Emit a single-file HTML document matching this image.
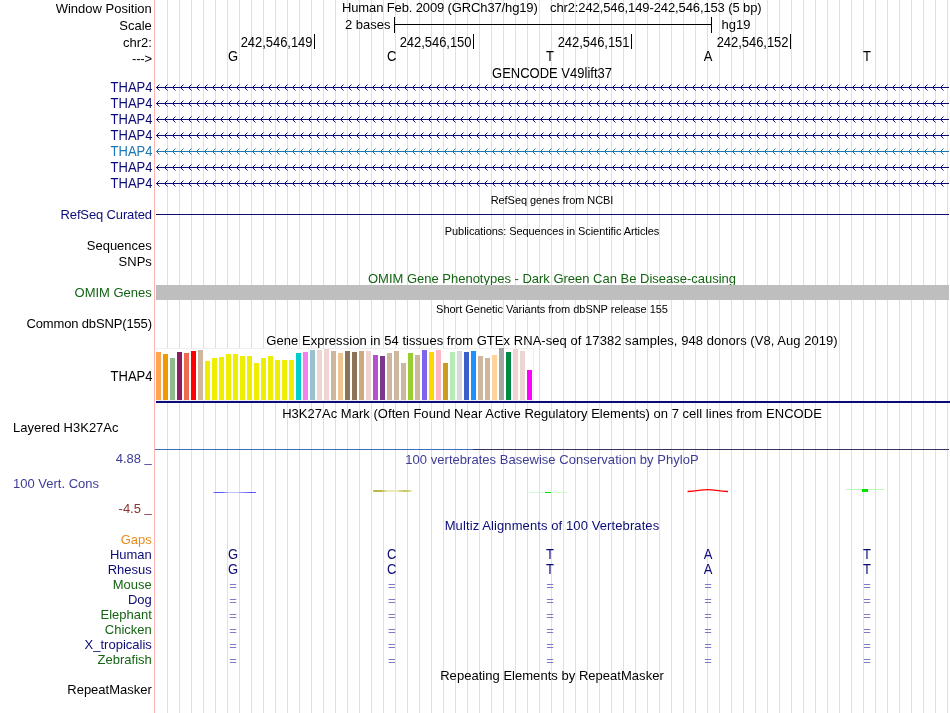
<!DOCTYPE html>
<html lang="en"><head><meta charset="utf-8"><title>UCSC Genome Browser hg19 chr2:242,546,149-242,546,153</title>
<style>
html,body{margin:0;padding:0;background:#fff;}
#b{position:relative;width:950px;height:713px;overflow:hidden;background:#fff;font-family:"Liberation Sans", sans-serif;font-size:13px;line-height:16px;color:#000;}
#b svg{position:absolute;left:0;top:0;}
.t{position:absolute;white-space:pre;height:16px;transform:scaleY(1.03);transform-origin:0 12px;}
.k{transform:scaleY(1.06);}
.r{right:798.2px;text-align:right;}
.c{left:154px;width:796px;text-align:center;}
.s{font-size:11px;transform:none;letter-spacing:-0.07px;}
.nv{color:#0c0c78;}
.gr{color:#146414;}
.u{position:relative;top:-1px;}
</style></head><body><div id="b">
<svg width="950" height="713" viewBox="0 0 950 713" shape-rendering="crispEdges">
<path d="M167.5 0V713M179.5 0V713M191.5 0V713M203.5 0V713M215.5 0V713M227.5 0V713M239.5 0V713M251.5 0V713M263.5 0V713M275.5 0V713M287.5 0V713M299.5 0V713M311.5 0V713M323.5 0V713M335.5 0V713M347.5 0V713M359.5 0V713M371.5 0V713M383.5 0V713M395.5 0V713M407.5 0V713M419.5 0V713M431.5 0V713M443.5 0V713M455.5 0V713M467.5 0V713M479.5 0V713M491.5 0V713M503.5 0V713M515.5 0V713M527.5 0V713M539.5 0V713M551.5 0V713M563.5 0V713M575.5 0V713M587.5 0V713M599.5 0V713M611.5 0V713M623.5 0V713M635.5 0V713M647.5 0V713M659.5 0V713M671.5 0V713M683.5 0V713M695.5 0V713M707.5 0V713M719.5 0V713M731.5 0V713M743.5 0V713M755.5 0V713M767.5 0V713M779.5 0V713M791.5 0V713M803.5 0V713M815.5 0V713M827.5 0V713M839.5 0V713M851.5 0V713M863.5 0V713M875.5 0V713M887.5 0V713M899.5 0V713M911.5 0V713M923.5 0V713M935.5 0V713M947.5 0V713" stroke="#dcdcff" stroke-width="1" fill="none"/>
<path d="M154.5 0V713" stroke="#ffb4b4" stroke-width="1" fill="none"/>
<path d="M394 24.5H712M394.5 17V33M711.5 17V33" stroke="#000" stroke-width="1" fill="none"/>
<path d="M314.5 34V49" stroke="#000" stroke-width="1" fill="none"/>
<path d="M473.5 34V49" stroke="#000" stroke-width="1" fill="none"/>
<path d="M631.5 34V49" stroke="#000" stroke-width="1" fill="none"/>
<path d="M790.5 34V49" stroke="#000" stroke-width="1" fill="none"/>
<path d="M156 87.5H949" stroke="#0c0c78" stroke-width="1" fill="none"/>
<path d="M156.5 87.5l3 -3m-3 3l3 3M164.5 87.5l3 -3m-3 3l3 3M172.5 87.5l3 -3m-3 3l3 3M180.5 87.5l3 -3m-3 3l3 3M188.5 87.5l3 -3m-3 3l3 3M196.5 87.5l3 -3m-3 3l3 3M204.5 87.5l3 -3m-3 3l3 3M212.5 87.5l3 -3m-3 3l3 3M220.5 87.5l3 -3m-3 3l3 3M228.5 87.5l3 -3m-3 3l3 3M236.5 87.5l3 -3m-3 3l3 3M244.5 87.5l3 -3m-3 3l3 3M252.5 87.5l3 -3m-3 3l3 3M260.5 87.5l3 -3m-3 3l3 3M268.5 87.5l3 -3m-3 3l3 3M276.5 87.5l3 -3m-3 3l3 3M284.5 87.5l3 -3m-3 3l3 3M292.5 87.5l3 -3m-3 3l3 3M300.5 87.5l3 -3m-3 3l3 3M308.5 87.5l3 -3m-3 3l3 3M316.5 87.5l3 -3m-3 3l3 3M324.5 87.5l3 -3m-3 3l3 3M332.5 87.5l3 -3m-3 3l3 3M340.5 87.5l3 -3m-3 3l3 3M348.5 87.5l3 -3m-3 3l3 3M356.5 87.5l3 -3m-3 3l3 3M364.5 87.5l3 -3m-3 3l3 3M372.5 87.5l3 -3m-3 3l3 3M380.5 87.5l3 -3m-3 3l3 3M388.5 87.5l3 -3m-3 3l3 3M396.5 87.5l3 -3m-3 3l3 3M404.5 87.5l3 -3m-3 3l3 3M412.5 87.5l3 -3m-3 3l3 3M420.5 87.5l3 -3m-3 3l3 3M428.5 87.5l3 -3m-3 3l3 3M436.5 87.5l3 -3m-3 3l3 3M444.5 87.5l3 -3m-3 3l3 3M452.5 87.5l3 -3m-3 3l3 3M460.5 87.5l3 -3m-3 3l3 3M468.5 87.5l3 -3m-3 3l3 3M476.5 87.5l3 -3m-3 3l3 3M484.5 87.5l3 -3m-3 3l3 3M492.5 87.5l3 -3m-3 3l3 3M500.5 87.5l3 -3m-3 3l3 3M508.5 87.5l3 -3m-3 3l3 3M516.5 87.5l3 -3m-3 3l3 3M524.5 87.5l3 -3m-3 3l3 3M532.5 87.5l3 -3m-3 3l3 3M540.5 87.5l3 -3m-3 3l3 3M548.5 87.5l3 -3m-3 3l3 3M556.5 87.5l3 -3m-3 3l3 3M564.5 87.5l3 -3m-3 3l3 3M572.5 87.5l3 -3m-3 3l3 3M580.5 87.5l3 -3m-3 3l3 3M588.5 87.5l3 -3m-3 3l3 3M596.5 87.5l3 -3m-3 3l3 3M604.5 87.5l3 -3m-3 3l3 3M612.5 87.5l3 -3m-3 3l3 3M620.5 87.5l3 -3m-3 3l3 3M628.5 87.5l3 -3m-3 3l3 3M636.5 87.5l3 -3m-3 3l3 3M644.5 87.5l3 -3m-3 3l3 3M652.5 87.5l3 -3m-3 3l3 3M660.5 87.5l3 -3m-3 3l3 3M668.5 87.5l3 -3m-3 3l3 3M676.5 87.5l3 -3m-3 3l3 3M684.5 87.5l3 -3m-3 3l3 3M692.5 87.5l3 -3m-3 3l3 3M700.5 87.5l3 -3m-3 3l3 3M708.5 87.5l3 -3m-3 3l3 3M716.5 87.5l3 -3m-3 3l3 3M724.5 87.5l3 -3m-3 3l3 3M732.5 87.5l3 -3m-3 3l3 3M740.5 87.5l3 -3m-3 3l3 3M748.5 87.5l3 -3m-3 3l3 3M756.5 87.5l3 -3m-3 3l3 3M764.5 87.5l3 -3m-3 3l3 3M772.5 87.5l3 -3m-3 3l3 3M780.5 87.5l3 -3m-3 3l3 3M788.5 87.5l3 -3m-3 3l3 3M796.5 87.5l3 -3m-3 3l3 3M804.5 87.5l3 -3m-3 3l3 3M812.5 87.5l3 -3m-3 3l3 3M820.5 87.5l3 -3m-3 3l3 3M828.5 87.5l3 -3m-3 3l3 3M836.5 87.5l3 -3m-3 3l3 3M844.5 87.5l3 -3m-3 3l3 3M852.5 87.5l3 -3m-3 3l3 3M860.5 87.5l3 -3m-3 3l3 3M868.5 87.5l3 -3m-3 3l3 3M876.5 87.5l3 -3m-3 3l3 3M884.5 87.5l3 -3m-3 3l3 3M892.5 87.5l3 -3m-3 3l3 3M900.5 87.5l3 -3m-3 3l3 3M908.5 87.5l3 -3m-3 3l3 3M916.5 87.5l3 -3m-3 3l3 3M924.5 87.5l3 -3m-3 3l3 3M932.5 87.5l3 -3m-3 3l3 3M940.5 87.5l3 -3m-3 3l3 3" stroke="#0c0c78" stroke-width="1" fill="none" shape-rendering="auto"/>
<path d="M156 103.5H949" stroke="#0c0c78" stroke-width="1" fill="none"/>
<path d="M156.5 103.5l3 -3m-3 3l3 3M164.5 103.5l3 -3m-3 3l3 3M172.5 103.5l3 -3m-3 3l3 3M180.5 103.5l3 -3m-3 3l3 3M188.5 103.5l3 -3m-3 3l3 3M196.5 103.5l3 -3m-3 3l3 3M204.5 103.5l3 -3m-3 3l3 3M212.5 103.5l3 -3m-3 3l3 3M220.5 103.5l3 -3m-3 3l3 3M228.5 103.5l3 -3m-3 3l3 3M236.5 103.5l3 -3m-3 3l3 3M244.5 103.5l3 -3m-3 3l3 3M252.5 103.5l3 -3m-3 3l3 3M260.5 103.5l3 -3m-3 3l3 3M268.5 103.5l3 -3m-3 3l3 3M276.5 103.5l3 -3m-3 3l3 3M284.5 103.5l3 -3m-3 3l3 3M292.5 103.5l3 -3m-3 3l3 3M300.5 103.5l3 -3m-3 3l3 3M308.5 103.5l3 -3m-3 3l3 3M316.5 103.5l3 -3m-3 3l3 3M324.5 103.5l3 -3m-3 3l3 3M332.5 103.5l3 -3m-3 3l3 3M340.5 103.5l3 -3m-3 3l3 3M348.5 103.5l3 -3m-3 3l3 3M356.5 103.5l3 -3m-3 3l3 3M364.5 103.5l3 -3m-3 3l3 3M372.5 103.5l3 -3m-3 3l3 3M380.5 103.5l3 -3m-3 3l3 3M388.5 103.5l3 -3m-3 3l3 3M396.5 103.5l3 -3m-3 3l3 3M404.5 103.5l3 -3m-3 3l3 3M412.5 103.5l3 -3m-3 3l3 3M420.5 103.5l3 -3m-3 3l3 3M428.5 103.5l3 -3m-3 3l3 3M436.5 103.5l3 -3m-3 3l3 3M444.5 103.5l3 -3m-3 3l3 3M452.5 103.5l3 -3m-3 3l3 3M460.5 103.5l3 -3m-3 3l3 3M468.5 103.5l3 -3m-3 3l3 3M476.5 103.5l3 -3m-3 3l3 3M484.5 103.5l3 -3m-3 3l3 3M492.5 103.5l3 -3m-3 3l3 3M500.5 103.5l3 -3m-3 3l3 3M508.5 103.5l3 -3m-3 3l3 3M516.5 103.5l3 -3m-3 3l3 3M524.5 103.5l3 -3m-3 3l3 3M532.5 103.5l3 -3m-3 3l3 3M540.5 103.5l3 -3m-3 3l3 3M548.5 103.5l3 -3m-3 3l3 3M556.5 103.5l3 -3m-3 3l3 3M564.5 103.5l3 -3m-3 3l3 3M572.5 103.5l3 -3m-3 3l3 3M580.5 103.5l3 -3m-3 3l3 3M588.5 103.5l3 -3m-3 3l3 3M596.5 103.5l3 -3m-3 3l3 3M604.5 103.5l3 -3m-3 3l3 3M612.5 103.5l3 -3m-3 3l3 3M620.5 103.5l3 -3m-3 3l3 3M628.5 103.5l3 -3m-3 3l3 3M636.5 103.5l3 -3m-3 3l3 3M644.5 103.5l3 -3m-3 3l3 3M652.5 103.5l3 -3m-3 3l3 3M660.5 103.5l3 -3m-3 3l3 3M668.5 103.5l3 -3m-3 3l3 3M676.5 103.5l3 -3m-3 3l3 3M684.5 103.5l3 -3m-3 3l3 3M692.5 103.5l3 -3m-3 3l3 3M700.5 103.5l3 -3m-3 3l3 3M708.5 103.5l3 -3m-3 3l3 3M716.5 103.5l3 -3m-3 3l3 3M724.5 103.5l3 -3m-3 3l3 3M732.5 103.5l3 -3m-3 3l3 3M740.5 103.5l3 -3m-3 3l3 3M748.5 103.5l3 -3m-3 3l3 3M756.5 103.5l3 -3m-3 3l3 3M764.5 103.5l3 -3m-3 3l3 3M772.5 103.5l3 -3m-3 3l3 3M780.5 103.5l3 -3m-3 3l3 3M788.5 103.5l3 -3m-3 3l3 3M796.5 103.5l3 -3m-3 3l3 3M804.5 103.5l3 -3m-3 3l3 3M812.5 103.5l3 -3m-3 3l3 3M820.5 103.5l3 -3m-3 3l3 3M828.5 103.5l3 -3m-3 3l3 3M836.5 103.5l3 -3m-3 3l3 3M844.5 103.5l3 -3m-3 3l3 3M852.5 103.5l3 -3m-3 3l3 3M860.5 103.5l3 -3m-3 3l3 3M868.5 103.5l3 -3m-3 3l3 3M876.5 103.5l3 -3m-3 3l3 3M884.5 103.5l3 -3m-3 3l3 3M892.5 103.5l3 -3m-3 3l3 3M900.5 103.5l3 -3m-3 3l3 3M908.5 103.5l3 -3m-3 3l3 3M916.5 103.5l3 -3m-3 3l3 3M924.5 103.5l3 -3m-3 3l3 3M932.5 103.5l3 -3m-3 3l3 3M940.5 103.5l3 -3m-3 3l3 3" stroke="#0c0c78" stroke-width="1" fill="none" shape-rendering="auto"/>
<path d="M156 119.5H949" stroke="#0c0c78" stroke-width="1" fill="none"/>
<path d="M156.5 119.5l3 -3m-3 3l3 3M164.5 119.5l3 -3m-3 3l3 3M172.5 119.5l3 -3m-3 3l3 3M180.5 119.5l3 -3m-3 3l3 3M188.5 119.5l3 -3m-3 3l3 3M196.5 119.5l3 -3m-3 3l3 3M204.5 119.5l3 -3m-3 3l3 3M212.5 119.5l3 -3m-3 3l3 3M220.5 119.5l3 -3m-3 3l3 3M228.5 119.5l3 -3m-3 3l3 3M236.5 119.5l3 -3m-3 3l3 3M244.5 119.5l3 -3m-3 3l3 3M252.5 119.5l3 -3m-3 3l3 3M260.5 119.5l3 -3m-3 3l3 3M268.5 119.5l3 -3m-3 3l3 3M276.5 119.5l3 -3m-3 3l3 3M284.5 119.5l3 -3m-3 3l3 3M292.5 119.5l3 -3m-3 3l3 3M300.5 119.5l3 -3m-3 3l3 3M308.5 119.5l3 -3m-3 3l3 3M316.5 119.5l3 -3m-3 3l3 3M324.5 119.5l3 -3m-3 3l3 3M332.5 119.5l3 -3m-3 3l3 3M340.5 119.5l3 -3m-3 3l3 3M348.5 119.5l3 -3m-3 3l3 3M356.5 119.5l3 -3m-3 3l3 3M364.5 119.5l3 -3m-3 3l3 3M372.5 119.5l3 -3m-3 3l3 3M380.5 119.5l3 -3m-3 3l3 3M388.5 119.5l3 -3m-3 3l3 3M396.5 119.5l3 -3m-3 3l3 3M404.5 119.5l3 -3m-3 3l3 3M412.5 119.5l3 -3m-3 3l3 3M420.5 119.5l3 -3m-3 3l3 3M428.5 119.5l3 -3m-3 3l3 3M436.5 119.5l3 -3m-3 3l3 3M444.5 119.5l3 -3m-3 3l3 3M452.5 119.5l3 -3m-3 3l3 3M460.5 119.5l3 -3m-3 3l3 3M468.5 119.5l3 -3m-3 3l3 3M476.5 119.5l3 -3m-3 3l3 3M484.5 119.5l3 -3m-3 3l3 3M492.5 119.5l3 -3m-3 3l3 3M500.5 119.5l3 -3m-3 3l3 3M508.5 119.5l3 -3m-3 3l3 3M516.5 119.5l3 -3m-3 3l3 3M524.5 119.5l3 -3m-3 3l3 3M532.5 119.5l3 -3m-3 3l3 3M540.5 119.5l3 -3m-3 3l3 3M548.5 119.5l3 -3m-3 3l3 3M556.5 119.5l3 -3m-3 3l3 3M564.5 119.5l3 -3m-3 3l3 3M572.5 119.5l3 -3m-3 3l3 3M580.5 119.5l3 -3m-3 3l3 3M588.5 119.5l3 -3m-3 3l3 3M596.5 119.5l3 -3m-3 3l3 3M604.5 119.5l3 -3m-3 3l3 3M612.5 119.5l3 -3m-3 3l3 3M620.5 119.5l3 -3m-3 3l3 3M628.5 119.5l3 -3m-3 3l3 3M636.5 119.5l3 -3m-3 3l3 3M644.5 119.5l3 -3m-3 3l3 3M652.5 119.5l3 -3m-3 3l3 3M660.5 119.5l3 -3m-3 3l3 3M668.5 119.5l3 -3m-3 3l3 3M676.5 119.5l3 -3m-3 3l3 3M684.5 119.5l3 -3m-3 3l3 3M692.5 119.5l3 -3m-3 3l3 3M700.5 119.5l3 -3m-3 3l3 3M708.5 119.5l3 -3m-3 3l3 3M716.5 119.5l3 -3m-3 3l3 3M724.5 119.5l3 -3m-3 3l3 3M732.5 119.5l3 -3m-3 3l3 3M740.5 119.5l3 -3m-3 3l3 3M748.5 119.5l3 -3m-3 3l3 3M756.5 119.5l3 -3m-3 3l3 3M764.5 119.5l3 -3m-3 3l3 3M772.5 119.5l3 -3m-3 3l3 3M780.5 119.5l3 -3m-3 3l3 3M788.5 119.5l3 -3m-3 3l3 3M796.5 119.5l3 -3m-3 3l3 3M804.5 119.5l3 -3m-3 3l3 3M812.5 119.5l3 -3m-3 3l3 3M820.5 119.5l3 -3m-3 3l3 3M828.5 119.5l3 -3m-3 3l3 3M836.5 119.5l3 -3m-3 3l3 3M844.5 119.5l3 -3m-3 3l3 3M852.5 119.5l3 -3m-3 3l3 3M860.5 119.5l3 -3m-3 3l3 3M868.5 119.5l3 -3m-3 3l3 3M876.5 119.5l3 -3m-3 3l3 3M884.5 119.5l3 -3m-3 3l3 3M892.5 119.5l3 -3m-3 3l3 3M900.5 119.5l3 -3m-3 3l3 3M908.5 119.5l3 -3m-3 3l3 3M916.5 119.5l3 -3m-3 3l3 3M924.5 119.5l3 -3m-3 3l3 3M932.5 119.5l3 -3m-3 3l3 3M940.5 119.5l3 -3m-3 3l3 3" stroke="#0c0c78" stroke-width="1" fill="none" shape-rendering="auto"/>
<path d="M156 135.5H949" stroke="#0c0c78" stroke-width="1" fill="none"/>
<path d="M156.5 135.5l3 -3m-3 3l3 3M164.5 135.5l3 -3m-3 3l3 3M172.5 135.5l3 -3m-3 3l3 3M180.5 135.5l3 -3m-3 3l3 3M188.5 135.5l3 -3m-3 3l3 3M196.5 135.5l3 -3m-3 3l3 3M204.5 135.5l3 -3m-3 3l3 3M212.5 135.5l3 -3m-3 3l3 3M220.5 135.5l3 -3m-3 3l3 3M228.5 135.5l3 -3m-3 3l3 3M236.5 135.5l3 -3m-3 3l3 3M244.5 135.5l3 -3m-3 3l3 3M252.5 135.5l3 -3m-3 3l3 3M260.5 135.5l3 -3m-3 3l3 3M268.5 135.5l3 -3m-3 3l3 3M276.5 135.5l3 -3m-3 3l3 3M284.5 135.5l3 -3m-3 3l3 3M292.5 135.5l3 -3m-3 3l3 3M300.5 135.5l3 -3m-3 3l3 3M308.5 135.5l3 -3m-3 3l3 3M316.5 135.5l3 -3m-3 3l3 3M324.5 135.5l3 -3m-3 3l3 3M332.5 135.5l3 -3m-3 3l3 3M340.5 135.5l3 -3m-3 3l3 3M348.5 135.5l3 -3m-3 3l3 3M356.5 135.5l3 -3m-3 3l3 3M364.5 135.5l3 -3m-3 3l3 3M372.5 135.5l3 -3m-3 3l3 3M380.5 135.5l3 -3m-3 3l3 3M388.5 135.5l3 -3m-3 3l3 3M396.5 135.5l3 -3m-3 3l3 3M404.5 135.5l3 -3m-3 3l3 3M412.5 135.5l3 -3m-3 3l3 3M420.5 135.5l3 -3m-3 3l3 3M428.5 135.5l3 -3m-3 3l3 3M436.5 135.5l3 -3m-3 3l3 3M444.5 135.5l3 -3m-3 3l3 3M452.5 135.5l3 -3m-3 3l3 3M460.5 135.5l3 -3m-3 3l3 3M468.5 135.5l3 -3m-3 3l3 3M476.5 135.5l3 -3m-3 3l3 3M484.5 135.5l3 -3m-3 3l3 3M492.5 135.5l3 -3m-3 3l3 3M500.5 135.5l3 -3m-3 3l3 3M508.5 135.5l3 -3m-3 3l3 3M516.5 135.5l3 -3m-3 3l3 3M524.5 135.5l3 -3m-3 3l3 3M532.5 135.5l3 -3m-3 3l3 3M540.5 135.5l3 -3m-3 3l3 3M548.5 135.5l3 -3m-3 3l3 3M556.5 135.5l3 -3m-3 3l3 3M564.5 135.5l3 -3m-3 3l3 3M572.5 135.5l3 -3m-3 3l3 3M580.5 135.5l3 -3m-3 3l3 3M588.5 135.5l3 -3m-3 3l3 3M596.5 135.5l3 -3m-3 3l3 3M604.5 135.5l3 -3m-3 3l3 3M612.5 135.5l3 -3m-3 3l3 3M620.5 135.5l3 -3m-3 3l3 3M628.5 135.5l3 -3m-3 3l3 3M636.5 135.5l3 -3m-3 3l3 3M644.5 135.5l3 -3m-3 3l3 3M652.5 135.5l3 -3m-3 3l3 3M660.5 135.5l3 -3m-3 3l3 3M668.5 135.5l3 -3m-3 3l3 3M676.5 135.5l3 -3m-3 3l3 3M684.5 135.5l3 -3m-3 3l3 3M692.5 135.5l3 -3m-3 3l3 3M700.5 135.5l3 -3m-3 3l3 3M708.5 135.5l3 -3m-3 3l3 3M716.5 135.5l3 -3m-3 3l3 3M724.5 135.5l3 -3m-3 3l3 3M732.5 135.5l3 -3m-3 3l3 3M740.5 135.5l3 -3m-3 3l3 3M748.5 135.5l3 -3m-3 3l3 3M756.5 135.5l3 -3m-3 3l3 3M764.5 135.5l3 -3m-3 3l3 3M772.5 135.5l3 -3m-3 3l3 3M780.5 135.5l3 -3m-3 3l3 3M788.5 135.5l3 -3m-3 3l3 3M796.5 135.5l3 -3m-3 3l3 3M804.5 135.5l3 -3m-3 3l3 3M812.5 135.5l3 -3m-3 3l3 3M820.5 135.5l3 -3m-3 3l3 3M828.5 135.5l3 -3m-3 3l3 3M836.5 135.5l3 -3m-3 3l3 3M844.5 135.5l3 -3m-3 3l3 3M852.5 135.5l3 -3m-3 3l3 3M860.5 135.5l3 -3m-3 3l3 3M868.5 135.5l3 -3m-3 3l3 3M876.5 135.5l3 -3m-3 3l3 3M884.5 135.5l3 -3m-3 3l3 3M892.5 135.5l3 -3m-3 3l3 3M900.5 135.5l3 -3m-3 3l3 3M908.5 135.5l3 -3m-3 3l3 3M916.5 135.5l3 -3m-3 3l3 3M924.5 135.5l3 -3m-3 3l3 3M932.5 135.5l3 -3m-3 3l3 3M940.5 135.5l3 -3m-3 3l3 3" stroke="#0c0c78" stroke-width="1" fill="none" shape-rendering="auto"/>
<path d="M156 151.5H949" stroke="#1c76b4" stroke-width="1" fill="none"/>
<path d="M156.5 151.5l3 -3m-3 3l3 3M164.5 151.5l3 -3m-3 3l3 3M172.5 151.5l3 -3m-3 3l3 3M180.5 151.5l3 -3m-3 3l3 3M188.5 151.5l3 -3m-3 3l3 3M196.5 151.5l3 -3m-3 3l3 3M204.5 151.5l3 -3m-3 3l3 3M212.5 151.5l3 -3m-3 3l3 3M220.5 151.5l3 -3m-3 3l3 3M228.5 151.5l3 -3m-3 3l3 3M236.5 151.5l3 -3m-3 3l3 3M244.5 151.5l3 -3m-3 3l3 3M252.5 151.5l3 -3m-3 3l3 3M260.5 151.5l3 -3m-3 3l3 3M268.5 151.5l3 -3m-3 3l3 3M276.5 151.5l3 -3m-3 3l3 3M284.5 151.5l3 -3m-3 3l3 3M292.5 151.5l3 -3m-3 3l3 3M300.5 151.5l3 -3m-3 3l3 3M308.5 151.5l3 -3m-3 3l3 3M316.5 151.5l3 -3m-3 3l3 3M324.5 151.5l3 -3m-3 3l3 3M332.5 151.5l3 -3m-3 3l3 3M340.5 151.5l3 -3m-3 3l3 3M348.5 151.5l3 -3m-3 3l3 3M356.5 151.5l3 -3m-3 3l3 3M364.5 151.5l3 -3m-3 3l3 3M372.5 151.5l3 -3m-3 3l3 3M380.5 151.5l3 -3m-3 3l3 3M388.5 151.5l3 -3m-3 3l3 3M396.5 151.5l3 -3m-3 3l3 3M404.5 151.5l3 -3m-3 3l3 3M412.5 151.5l3 -3m-3 3l3 3M420.5 151.5l3 -3m-3 3l3 3M428.5 151.5l3 -3m-3 3l3 3M436.5 151.5l3 -3m-3 3l3 3M444.5 151.5l3 -3m-3 3l3 3M452.5 151.5l3 -3m-3 3l3 3M460.5 151.5l3 -3m-3 3l3 3M468.5 151.5l3 -3m-3 3l3 3M476.5 151.5l3 -3m-3 3l3 3M484.5 151.5l3 -3m-3 3l3 3M492.5 151.5l3 -3m-3 3l3 3M500.5 151.5l3 -3m-3 3l3 3M508.5 151.5l3 -3m-3 3l3 3M516.5 151.5l3 -3m-3 3l3 3M524.5 151.5l3 -3m-3 3l3 3M532.5 151.5l3 -3m-3 3l3 3M540.5 151.5l3 -3m-3 3l3 3M548.5 151.5l3 -3m-3 3l3 3M556.5 151.5l3 -3m-3 3l3 3M564.5 151.5l3 -3m-3 3l3 3M572.5 151.5l3 -3m-3 3l3 3M580.5 151.5l3 -3m-3 3l3 3M588.5 151.5l3 -3m-3 3l3 3M596.5 151.5l3 -3m-3 3l3 3M604.5 151.5l3 -3m-3 3l3 3M612.5 151.5l3 -3m-3 3l3 3M620.5 151.5l3 -3m-3 3l3 3M628.5 151.5l3 -3m-3 3l3 3M636.5 151.5l3 -3m-3 3l3 3M644.5 151.5l3 -3m-3 3l3 3M652.5 151.5l3 -3m-3 3l3 3M660.5 151.5l3 -3m-3 3l3 3M668.5 151.5l3 -3m-3 3l3 3M676.5 151.5l3 -3m-3 3l3 3M684.5 151.5l3 -3m-3 3l3 3M692.5 151.5l3 -3m-3 3l3 3M700.5 151.5l3 -3m-3 3l3 3M708.5 151.5l3 -3m-3 3l3 3M716.5 151.5l3 -3m-3 3l3 3M724.5 151.5l3 -3m-3 3l3 3M732.5 151.5l3 -3m-3 3l3 3M740.5 151.5l3 -3m-3 3l3 3M748.5 151.5l3 -3m-3 3l3 3M756.5 151.5l3 -3m-3 3l3 3M764.5 151.5l3 -3m-3 3l3 3M772.5 151.5l3 -3m-3 3l3 3M780.5 151.5l3 -3m-3 3l3 3M788.5 151.5l3 -3m-3 3l3 3M796.5 151.5l3 -3m-3 3l3 3M804.5 151.5l3 -3m-3 3l3 3M812.5 151.5l3 -3m-3 3l3 3M820.5 151.5l3 -3m-3 3l3 3M828.5 151.5l3 -3m-3 3l3 3M836.5 151.5l3 -3m-3 3l3 3M844.5 151.5l3 -3m-3 3l3 3M852.5 151.5l3 -3m-3 3l3 3M860.5 151.5l3 -3m-3 3l3 3M868.5 151.5l3 -3m-3 3l3 3M876.5 151.5l3 -3m-3 3l3 3M884.5 151.5l3 -3m-3 3l3 3M892.5 151.5l3 -3m-3 3l3 3M900.5 151.5l3 -3m-3 3l3 3M908.5 151.5l3 -3m-3 3l3 3M916.5 151.5l3 -3m-3 3l3 3M924.5 151.5l3 -3m-3 3l3 3M932.5 151.5l3 -3m-3 3l3 3M940.5 151.5l3 -3m-3 3l3 3" stroke="#1c76b4" stroke-width="1" fill="none" shape-rendering="auto"/>
<path d="M156 167.5H949" stroke="#0c0c78" stroke-width="1" fill="none"/>
<path d="M156.5 167.5l3 -3m-3 3l3 3M164.5 167.5l3 -3m-3 3l3 3M172.5 167.5l3 -3m-3 3l3 3M180.5 167.5l3 -3m-3 3l3 3M188.5 167.5l3 -3m-3 3l3 3M196.5 167.5l3 -3m-3 3l3 3M204.5 167.5l3 -3m-3 3l3 3M212.5 167.5l3 -3m-3 3l3 3M220.5 167.5l3 -3m-3 3l3 3M228.5 167.5l3 -3m-3 3l3 3M236.5 167.5l3 -3m-3 3l3 3M244.5 167.5l3 -3m-3 3l3 3M252.5 167.5l3 -3m-3 3l3 3M260.5 167.5l3 -3m-3 3l3 3M268.5 167.5l3 -3m-3 3l3 3M276.5 167.5l3 -3m-3 3l3 3M284.5 167.5l3 -3m-3 3l3 3M292.5 167.5l3 -3m-3 3l3 3M300.5 167.5l3 -3m-3 3l3 3M308.5 167.5l3 -3m-3 3l3 3M316.5 167.5l3 -3m-3 3l3 3M324.5 167.5l3 -3m-3 3l3 3M332.5 167.5l3 -3m-3 3l3 3M340.5 167.5l3 -3m-3 3l3 3M348.5 167.5l3 -3m-3 3l3 3M356.5 167.5l3 -3m-3 3l3 3M364.5 167.5l3 -3m-3 3l3 3M372.5 167.5l3 -3m-3 3l3 3M380.5 167.5l3 -3m-3 3l3 3M388.5 167.5l3 -3m-3 3l3 3M396.5 167.5l3 -3m-3 3l3 3M404.5 167.5l3 -3m-3 3l3 3M412.5 167.5l3 -3m-3 3l3 3M420.5 167.5l3 -3m-3 3l3 3M428.5 167.5l3 -3m-3 3l3 3M436.5 167.5l3 -3m-3 3l3 3M444.5 167.5l3 -3m-3 3l3 3M452.5 167.5l3 -3m-3 3l3 3M460.5 167.5l3 -3m-3 3l3 3M468.5 167.5l3 -3m-3 3l3 3M476.5 167.5l3 -3m-3 3l3 3M484.5 167.5l3 -3m-3 3l3 3M492.5 167.5l3 -3m-3 3l3 3M500.5 167.5l3 -3m-3 3l3 3M508.5 167.5l3 -3m-3 3l3 3M516.5 167.5l3 -3m-3 3l3 3M524.5 167.5l3 -3m-3 3l3 3M532.5 167.5l3 -3m-3 3l3 3M540.5 167.5l3 -3m-3 3l3 3M548.5 167.5l3 -3m-3 3l3 3M556.5 167.5l3 -3m-3 3l3 3M564.5 167.5l3 -3m-3 3l3 3M572.5 167.5l3 -3m-3 3l3 3M580.5 167.5l3 -3m-3 3l3 3M588.5 167.5l3 -3m-3 3l3 3M596.5 167.5l3 -3m-3 3l3 3M604.5 167.5l3 -3m-3 3l3 3M612.5 167.5l3 -3m-3 3l3 3M620.5 167.5l3 -3m-3 3l3 3M628.5 167.5l3 -3m-3 3l3 3M636.5 167.5l3 -3m-3 3l3 3M644.5 167.5l3 -3m-3 3l3 3M652.5 167.5l3 -3m-3 3l3 3M660.5 167.5l3 -3m-3 3l3 3M668.5 167.5l3 -3m-3 3l3 3M676.5 167.5l3 -3m-3 3l3 3M684.5 167.5l3 -3m-3 3l3 3M692.5 167.5l3 -3m-3 3l3 3M700.5 167.5l3 -3m-3 3l3 3M708.5 167.5l3 -3m-3 3l3 3M716.5 167.5l3 -3m-3 3l3 3M724.5 167.5l3 -3m-3 3l3 3M732.5 167.5l3 -3m-3 3l3 3M740.5 167.5l3 -3m-3 3l3 3M748.5 167.5l3 -3m-3 3l3 3M756.5 167.5l3 -3m-3 3l3 3M764.5 167.5l3 -3m-3 3l3 3M772.5 167.5l3 -3m-3 3l3 3M780.5 167.5l3 -3m-3 3l3 3M788.5 167.5l3 -3m-3 3l3 3M796.5 167.5l3 -3m-3 3l3 3M804.5 167.5l3 -3m-3 3l3 3M812.5 167.5l3 -3m-3 3l3 3M820.5 167.5l3 -3m-3 3l3 3M828.5 167.5l3 -3m-3 3l3 3M836.5 167.5l3 -3m-3 3l3 3M844.5 167.5l3 -3m-3 3l3 3M852.5 167.5l3 -3m-3 3l3 3M860.5 167.5l3 -3m-3 3l3 3M868.5 167.5l3 -3m-3 3l3 3M876.5 167.5l3 -3m-3 3l3 3M884.5 167.5l3 -3m-3 3l3 3M892.5 167.5l3 -3m-3 3l3 3M900.5 167.5l3 -3m-3 3l3 3M908.5 167.5l3 -3m-3 3l3 3M916.5 167.5l3 -3m-3 3l3 3M924.5 167.5l3 -3m-3 3l3 3M932.5 167.5l3 -3m-3 3l3 3M940.5 167.5l3 -3m-3 3l3 3" stroke="#0c0c78" stroke-width="1" fill="none" shape-rendering="auto"/>
<path d="M156 183.5H949" stroke="#0c0c78" stroke-width="1" fill="none"/>
<path d="M156.5 183.5l3 -3m-3 3l3 3M164.5 183.5l3 -3m-3 3l3 3M172.5 183.5l3 -3m-3 3l3 3M180.5 183.5l3 -3m-3 3l3 3M188.5 183.5l3 -3m-3 3l3 3M196.5 183.5l3 -3m-3 3l3 3M204.5 183.5l3 -3m-3 3l3 3M212.5 183.5l3 -3m-3 3l3 3M220.5 183.5l3 -3m-3 3l3 3M228.5 183.5l3 -3m-3 3l3 3M236.5 183.5l3 -3m-3 3l3 3M244.5 183.5l3 -3m-3 3l3 3M252.5 183.5l3 -3m-3 3l3 3M260.5 183.5l3 -3m-3 3l3 3M268.5 183.5l3 -3m-3 3l3 3M276.5 183.5l3 -3m-3 3l3 3M284.5 183.5l3 -3m-3 3l3 3M292.5 183.5l3 -3m-3 3l3 3M300.5 183.5l3 -3m-3 3l3 3M308.5 183.5l3 -3m-3 3l3 3M316.5 183.5l3 -3m-3 3l3 3M324.5 183.5l3 -3m-3 3l3 3M332.5 183.5l3 -3m-3 3l3 3M340.5 183.5l3 -3m-3 3l3 3M348.5 183.5l3 -3m-3 3l3 3M356.5 183.5l3 -3m-3 3l3 3M364.5 183.5l3 -3m-3 3l3 3M372.5 183.5l3 -3m-3 3l3 3M380.5 183.5l3 -3m-3 3l3 3M388.5 183.5l3 -3m-3 3l3 3M396.5 183.5l3 -3m-3 3l3 3M404.5 183.5l3 -3m-3 3l3 3M412.5 183.5l3 -3m-3 3l3 3M420.5 183.5l3 -3m-3 3l3 3M428.5 183.5l3 -3m-3 3l3 3M436.5 183.5l3 -3m-3 3l3 3M444.5 183.5l3 -3m-3 3l3 3M452.5 183.5l3 -3m-3 3l3 3M460.5 183.5l3 -3m-3 3l3 3M468.5 183.5l3 -3m-3 3l3 3M476.5 183.5l3 -3m-3 3l3 3M484.5 183.5l3 -3m-3 3l3 3M492.5 183.5l3 -3m-3 3l3 3M500.5 183.5l3 -3m-3 3l3 3M508.5 183.5l3 -3m-3 3l3 3M516.5 183.5l3 -3m-3 3l3 3M524.5 183.5l3 -3m-3 3l3 3M532.5 183.5l3 -3m-3 3l3 3M540.5 183.5l3 -3m-3 3l3 3M548.5 183.5l3 -3m-3 3l3 3M556.5 183.5l3 -3m-3 3l3 3M564.5 183.5l3 -3m-3 3l3 3M572.5 183.5l3 -3m-3 3l3 3M580.5 183.5l3 -3m-3 3l3 3M588.5 183.5l3 -3m-3 3l3 3M596.5 183.5l3 -3m-3 3l3 3M604.5 183.5l3 -3m-3 3l3 3M612.5 183.5l3 -3m-3 3l3 3M620.5 183.5l3 -3m-3 3l3 3M628.5 183.5l3 -3m-3 3l3 3M636.5 183.5l3 -3m-3 3l3 3M644.5 183.5l3 -3m-3 3l3 3M652.5 183.5l3 -3m-3 3l3 3M660.5 183.5l3 -3m-3 3l3 3M668.5 183.5l3 -3m-3 3l3 3M676.5 183.5l3 -3m-3 3l3 3M684.5 183.5l3 -3m-3 3l3 3M692.5 183.5l3 -3m-3 3l3 3M700.5 183.5l3 -3m-3 3l3 3M708.5 183.5l3 -3m-3 3l3 3M716.5 183.5l3 -3m-3 3l3 3M724.5 183.5l3 -3m-3 3l3 3M732.5 183.5l3 -3m-3 3l3 3M740.5 183.5l3 -3m-3 3l3 3M748.5 183.5l3 -3m-3 3l3 3M756.5 183.5l3 -3m-3 3l3 3M764.5 183.5l3 -3m-3 3l3 3M772.5 183.5l3 -3m-3 3l3 3M780.5 183.5l3 -3m-3 3l3 3M788.5 183.5l3 -3m-3 3l3 3M796.5 183.5l3 -3m-3 3l3 3M804.5 183.5l3 -3m-3 3l3 3M812.5 183.5l3 -3m-3 3l3 3M820.5 183.5l3 -3m-3 3l3 3M828.5 183.5l3 -3m-3 3l3 3M836.5 183.5l3 -3m-3 3l3 3M844.5 183.5l3 -3m-3 3l3 3M852.5 183.5l3 -3m-3 3l3 3M860.5 183.5l3 -3m-3 3l3 3M868.5 183.5l3 -3m-3 3l3 3M876.5 183.5l3 -3m-3 3l3 3M884.5 183.5l3 -3m-3 3l3 3M892.5 183.5l3 -3m-3 3l3 3M900.5 183.5l3 -3m-3 3l3 3M908.5 183.5l3 -3m-3 3l3 3M916.5 183.5l3 -3m-3 3l3 3M924.5 183.5l3 -3m-3 3l3 3M932.5 183.5l3 -3m-3 3l3 3M940.5 183.5l3 -3m-3 3l3 3" stroke="#0c0c78" stroke-width="1" fill="none" shape-rendering="auto"/>
<path d="M156 214.5H949" stroke="#0c0c78" stroke-width="1" fill="none"/>
<rect x="156" y="285" width="793" height="15" fill="#bebebe"/>
<rect x="156.5" y="348.5" width="377" height="52" fill="#fff" stroke="#f0f0f0" stroke-width="1"/>
<rect x="156" y="352" width="5" height="48" fill="#FFA54F"/>
<rect x="163" y="354" width="5" height="46" fill="#EE9A00"/>
<rect x="170" y="358" width="5" height="42" fill="#8FBC8F"/>
<rect x="177" y="352" width="5" height="48" fill="#8B1C62"/>
<rect x="184" y="353" width="5" height="47" fill="#EE6A50"/>
<rect x="191" y="351" width="5" height="49" fill="#FF0000"/>
<rect x="198" y="350" width="5" height="50" fill="#CDB79E"/>
<rect x="205" y="361" width="5" height="39" fill="#EEEE00"/>
<rect x="212" y="358" width="5" height="42" fill="#EEEE00"/>
<rect x="219" y="357" width="5" height="43" fill="#EEEE00"/>
<rect x="226" y="354" width="5" height="46" fill="#EEEE00"/>
<rect x="233" y="354" width="5" height="46" fill="#EEEE00"/>
<rect x="240" y="356" width="5" height="44" fill="#EEEE00"/>
<rect x="247" y="356" width="5" height="44" fill="#EEEE00"/>
<rect x="254" y="363" width="5" height="37" fill="#EEEE00"/>
<rect x="261" y="358" width="5" height="42" fill="#EEEE00"/>
<rect x="268" y="356" width="5" height="44" fill="#EEEE00"/>
<rect x="275" y="360" width="5" height="40" fill="#EEEE00"/>
<rect x="282" y="360" width="5" height="40" fill="#EEEE00"/>
<rect x="289" y="360" width="5" height="40" fill="#EEEE00"/>
<rect x="296" y="353" width="5" height="47" fill="#00CDCD"/>
<rect x="303" y="352" width="5" height="48" fill="#EE82EE"/>
<rect x="310" y="350" width="5" height="50" fill="#9AC0CD"/>
<rect x="317" y="350" width="5" height="50" fill="#EED5D2"/>
<rect x="324" y="349" width="5" height="51" fill="#EED5D2"/>
<rect x="331" y="351" width="5" height="49" fill="#CDB79E"/>
<rect x="338" y="353" width="5" height="47" fill="#EEC591"/>
<rect x="345" y="351" width="5" height="49" fill="#8B7355"/>
<rect x="352" y="352" width="5" height="48" fill="#8B7355"/>
<rect x="359" y="351" width="5" height="49" fill="#CDAA7D"/>
<rect x="366" y="351" width="5" height="49" fill="#EED5D2"/>
<rect x="373" y="355" width="5" height="45" fill="#B452CD"/>
<rect x="380" y="356" width="5" height="44" fill="#7A378B"/>
<rect x="387" y="353" width="5" height="47" fill="#CDB79E"/>
<rect x="394" y="351" width="5" height="49" fill="#CDB79E"/>
<rect x="401" y="363" width="5" height="37" fill="#CDB79E"/>
<rect x="408" y="353" width="5" height="47" fill="#9ACD32"/>
<rect x="415" y="355" width="5" height="45" fill="#CDB79E"/>
<rect x="422" y="350" width="5" height="50" fill="#7A67EE"/>
<rect x="429" y="352" width="5" height="48" fill="#FFD700"/>
<rect x="436" y="350" width="5" height="50" fill="#FFB6C1"/>
<rect x="443" y="363" width="5" height="37" fill="#CD9B1D"/>
<rect x="450" y="352" width="5" height="48" fill="#B4EEB4"/>
<rect x="457" y="351" width="5" height="49" fill="#D9D9D9"/>
<rect x="464" y="352" width="5" height="48" fill="#3A5FCD"/>
<rect x="471" y="351" width="5" height="49" fill="#1E90FF"/>
<rect x="478" y="356" width="5" height="44" fill="#CDB79E"/>
<rect x="485" y="358" width="5" height="42" fill="#CDB79E"/>
<rect x="492" y="355" width="5" height="45" fill="#FFD39B"/>
<rect x="499" y="348" width="5" height="52" fill="#A6A6A6"/>
<rect x="506" y="352" width="5" height="48" fill="#008B45"/>
<rect x="513" y="349" width="5" height="51" fill="#EED5D2"/>
<rect x="520" y="351" width="5" height="49" fill="#EED5D2"/>
<rect x="527" y="370" width="5" height="30" fill="#FF00FF"/>
<rect x="156" y="401" width="794" height="2" fill="#0a0a78"/>
<path d="M155 449.5H473" stroke="#3c6ebe" stroke-width="1" fill="none"/>
<path d="M473 449.5H949" stroke="#37305a" stroke-width="1" fill="none"/>
<defs><linearGradient id="gb" x1="0" x2="1" y1="0" y2="0"><stop offset="0" stop-color="#b4b4ff"/><stop offset="0.06" stop-color="#5050ff"/><stop offset="0.22" stop-color="#5c5cff"/><stop offset="0.38" stop-color="#c4c4ff"/><stop offset="0.55" stop-color="#c0c0ff"/><stop offset="0.72" stop-color="#8484ff"/><stop offset="0.9" stop-color="#4a4aff"/><stop offset="1" stop-color="#6464ff"/></linearGradient><linearGradient id="go" x1="0" x2="1" y1="0" y2="0"><stop offset="0" stop-color="#c8c860"/><stop offset="0.05" stop-color="#aaaa1e"/><stop offset="0.22" stop-color="#b0b028"/><stop offset="0.36" stop-color="#e6e6a8"/><stop offset="0.6" stop-color="#e8e8b4"/><stop offset="0.8" stop-color="#bcbc48"/><stop offset="0.9" stop-color="#c4c45c"/><stop offset="1" stop-color="#ececc0"/></linearGradient></defs>
<rect x="213" y="492" width="43" height="1" fill="url(#gb)"/>
<rect x="373" y="490" width="39" height="2" fill="url(#go)" opacity="0.85"/>
<path d="M529 492.5H567" stroke="#d4fcd4" stroke-width="1"/>
<path d="M545 492.5H551" stroke="#00e600" stroke-width="1"/>
<path d="M687.6 491.5C697 491.5 700 489.6 707.5 489.6C715 489.6 718 491.5 728 491.5" stroke="#ff0000" stroke-width="1.3" fill="none" shape-rendering="auto"/>
<path d="M846 489.5H884" stroke="#bcf8bc" stroke-width="1"/>
<rect x="862" y="489" width="6" height="3" fill="#00e400"/>
</svg>
<div class="t r" style="top:1px;">Window Position</div>
<div class="t r" style="top:18px;">Scale</div>
<div class="t r" style="top:35px;">chr2:</div>
<div class="t r" style="top:51px;letter-spacing:-0.2px">---&gt;</div>
<div class="t r k" style="top:80px;right:797.5px;color:#0c0c78">THAP4</div>
<div class="t r k" style="top:96px;right:797.5px;color:#0c0c78">THAP4</div>
<div class="t r k" style="top:112px;right:797.5px;color:#0c0c78">THAP4</div>
<div class="t r k" style="top:128px;right:797.5px;color:#0c0c78">THAP4</div>
<div class="t r k" style="top:144px;right:797.5px;color:#1c76b4">THAP4</div>
<div class="t r k" style="top:160px;right:797.5px;color:#0c0c78">THAP4</div>
<div class="t r k" style="top:176px;right:797.5px;color:#0c0c78">THAP4</div>
<div class="t r" style="top:207px;color:#0c0c78;letter-spacing:-0.14px">RefSeq Curated</div>
<div class="t r" style="top:238px;">Sequences</div>
<div class="t r" style="top:254px;">SNPs</div>
<div class="t r" style="top:285px;color:#146414">OMIM Genes</div>
<div class="t r" style="top:316px;letter-spacing:-0.15px">Common dbSNP(155)</div>
<div class="t r k" style="top:369px;right:797.5px">THAP4</div>
<div class="t " style="top:420px;left:13px">Layered H3K27Ac</div>
<div class="t r" style="top:451px;color:#3c3c96">4.88 <span class="u">_</span></div>
<div class="t " style="top:476px;left:13px;color:#3c3c96">100 Vert. Cons</div>
<div class="t r" style="top:501px;color:#8c3232">-4.5 <span class="u">_</span></div>
<div class="t r" style="top:532px;color:#e68c1e">Gaps</div>
<div class="t r" style="top:547px;color:#0c0c78">Human</div>
<div class="t r" style="top:562px;color:#0c0c78">Rhesus</div>
<div class="t r" style="top:577px;color:#146414">Mouse</div>
<div class="t r" style="top:592px;color:#0c0c78">Dog</div>
<div class="t r" style="top:607px;color:#146414">Elephant</div>
<div class="t r" style="top:622px;color:#146414">Chicken</div>
<div class="t r" style="top:637px;color:#0c0c78">X_tropicalis</div>
<div class="t r" style="top:652px;color:#146414">Zebrafish</div>
<div class="t r" style="top:682px;">RepeatMasker</div>
<div class="t " style="top:0px;left:342px;letter-spacing:-0.13px">Human Feb. 2009 (GRCh37/hg19)</div>
<div class="t " style="top:0px;left:550px;letter-spacing:-0.11px">chr2:242,546,149-242,546,153 (5 bp)</div>
<div class="t " style="top:17px;left:345px">2 bases</div>
<div class="t " style="top:17px;left:721.5px">hg19</div>
<div class="t k" style="top:35px;left:240.7px;letter-spacing:-0.05px">242,546,149</div>
<div class="t k" style="top:35px;left:399.7px;letter-spacing:-0.05px">242,546,150</div>
<div class="t k" style="top:35px;left:557.7px;letter-spacing:-0.05px">242,546,151</div>
<div class="t k" style="top:35px;left:716.7px;letter-spacing:-0.05px">242,546,152</div>
<div class="t k" style="top:49px;left:233.0px;width:20px;margin-left:-10px;text-align:center">G</div>
<div class="t k" style="top:49px;left:391.8px;width:20px;margin-left:-10px;text-align:center">C</div>
<div class="t k" style="top:49px;left:550.0px;width:20px;margin-left:-10px;text-align:center">T</div>
<div class="t k" style="top:49px;left:708.0px;width:20px;margin-left:-10px;text-align:center">A</div>
<div class="t k" style="top:49px;left:867.0px;width:20px;margin-left:-10px;text-align:center">T</div>
<div class="t c k" style="top:66px;">GENCODE V49lift37</div>
<div class="t c s" style="top:192px;">RefSeq genes from NCBI</div>
<div class="t c s" style="top:223px;">Publications: Sequences in Scientific Articles</div>
<div class="t c" style="top:271px;color:#146414;height:14px;overflow:hidden;letter-spacing:-0.01px">OMIM Gene Phenotypes - Dark Green Can Be Disease-causing</div>
<div class="t c s" style="top:301px;letter-spacing:-0.03px">Short Genetic Variants from dbSNP release 155</div>
<div class="t c" style="top:333px;letter-spacing:0.046px">Gene Expression in 54 tissues from GTEx RNA-seq of 17382 samples, 948 donors (V8, Aug 2019)</div>
<div class="t c" style="top:406px;letter-spacing:0.025px">H3K27Ac Mark (Often Found Near Active Regulatory Elements) on 7 cell lines from ENCODE</div>
<div class="t c" style="top:452px;color:#3c3c96;letter-spacing:0.03px">100 vertebrates Basewise Conservation by PhyloP</div>
<div class="t c" style="top:518px;color:#0c0c78;letter-spacing:0.1px">Multiz Alignments of 100 Vertebrates</div>
<div class="t c" style="top:668px;letter-spacing:0.03px">Repeating Elements by RepeatMasker</div>
<div class="t nv k" style="top:547px;left:233.0px;width:20px;margin-left:-10px;text-align:center">G</div>
<div class="t nv k" style="top:562px;left:233.0px;width:20px;margin-left:-10px;text-align:center">G</div>
<div class="t " style="top:578px;transform:none;left:233.0px;width:20px;margin-left:-10px;text-align:center;color:#7c7cc2">=</div>
<div class="t " style="top:593px;transform:none;left:233.0px;width:20px;margin-left:-10px;text-align:center;color:#7c7cc2">=</div>
<div class="t " style="top:608px;transform:none;left:233.0px;width:20px;margin-left:-10px;text-align:center;color:#7c7cc2">=</div>
<div class="t " style="top:623px;transform:none;left:233.0px;width:20px;margin-left:-10px;text-align:center;color:#7c7cc2">=</div>
<div class="t " style="top:638px;transform:none;left:233.0px;width:20px;margin-left:-10px;text-align:center;color:#7c7cc2">=</div>
<div class="t " style="top:653px;transform:none;left:233.0px;width:20px;margin-left:-10px;text-align:center;color:#7c7cc2">=</div>
<div class="t nv k" style="top:547px;left:391.8px;width:20px;margin-left:-10px;text-align:center">C</div>
<div class="t nv k" style="top:562px;left:391.8px;width:20px;margin-left:-10px;text-align:center">C</div>
<div class="t " style="top:578px;transform:none;left:391.8px;width:20px;margin-left:-10px;text-align:center;color:#7c7cc2">=</div>
<div class="t " style="top:593px;transform:none;left:391.8px;width:20px;margin-left:-10px;text-align:center;color:#7c7cc2">=</div>
<div class="t " style="top:608px;transform:none;left:391.8px;width:20px;margin-left:-10px;text-align:center;color:#7c7cc2">=</div>
<div class="t " style="top:623px;transform:none;left:391.8px;width:20px;margin-left:-10px;text-align:center;color:#7c7cc2">=</div>
<div class="t " style="top:638px;transform:none;left:391.8px;width:20px;margin-left:-10px;text-align:center;color:#7c7cc2">=</div>
<div class="t " style="top:653px;transform:none;left:391.8px;width:20px;margin-left:-10px;text-align:center;color:#7c7cc2">=</div>
<div class="t nv k" style="top:547px;left:550.0px;width:20px;margin-left:-10px;text-align:center">T</div>
<div class="t nv k" style="top:562px;left:550.0px;width:20px;margin-left:-10px;text-align:center">T</div>
<div class="t " style="top:578px;transform:none;left:550.0px;width:20px;margin-left:-10px;text-align:center;color:#7c7cc2">=</div>
<div class="t " style="top:593px;transform:none;left:550.0px;width:20px;margin-left:-10px;text-align:center;color:#7c7cc2">=</div>
<div class="t " style="top:608px;transform:none;left:550.0px;width:20px;margin-left:-10px;text-align:center;color:#7c7cc2">=</div>
<div class="t " style="top:623px;transform:none;left:550.0px;width:20px;margin-left:-10px;text-align:center;color:#7c7cc2">=</div>
<div class="t " style="top:638px;transform:none;left:550.0px;width:20px;margin-left:-10px;text-align:center;color:#7c7cc2">=</div>
<div class="t " style="top:653px;transform:none;left:550.0px;width:20px;margin-left:-10px;text-align:center;color:#7c7cc2">=</div>
<div class="t nv k" style="top:547px;left:708.0px;width:20px;margin-left:-10px;text-align:center">A</div>
<div class="t nv k" style="top:562px;left:708.0px;width:20px;margin-left:-10px;text-align:center">A</div>
<div class="t " style="top:578px;transform:none;left:708.0px;width:20px;margin-left:-10px;text-align:center;color:#7c7cc2">=</div>
<div class="t " style="top:593px;transform:none;left:708.0px;width:20px;margin-left:-10px;text-align:center;color:#7c7cc2">=</div>
<div class="t " style="top:608px;transform:none;left:708.0px;width:20px;margin-left:-10px;text-align:center;color:#7c7cc2">=</div>
<div class="t " style="top:623px;transform:none;left:708.0px;width:20px;margin-left:-10px;text-align:center;color:#7c7cc2">=</div>
<div class="t " style="top:638px;transform:none;left:708.0px;width:20px;margin-left:-10px;text-align:center;color:#7c7cc2">=</div>
<div class="t " style="top:653px;transform:none;left:708.0px;width:20px;margin-left:-10px;text-align:center;color:#7c7cc2">=</div>
<div class="t nv k" style="top:547px;left:867.0px;width:20px;margin-left:-10px;text-align:center">T</div>
<div class="t nv k" style="top:562px;left:867.0px;width:20px;margin-left:-10px;text-align:center">T</div>
<div class="t " style="top:578px;transform:none;left:867.0px;width:20px;margin-left:-10px;text-align:center;color:#7c7cc2">=</div>
<div class="t " style="top:593px;transform:none;left:867.0px;width:20px;margin-left:-10px;text-align:center;color:#7c7cc2">=</div>
<div class="t " style="top:608px;transform:none;left:867.0px;width:20px;margin-left:-10px;text-align:center;color:#7c7cc2">=</div>
<div class="t " style="top:623px;transform:none;left:867.0px;width:20px;margin-left:-10px;text-align:center;color:#7c7cc2">=</div>
<div class="t " style="top:638px;transform:none;left:867.0px;width:20px;margin-left:-10px;text-align:center;color:#7c7cc2">=</div>
<div class="t " style="top:653px;transform:none;left:867.0px;width:20px;margin-left:-10px;text-align:center;color:#7c7cc2">=</div>
</div></body></html>
